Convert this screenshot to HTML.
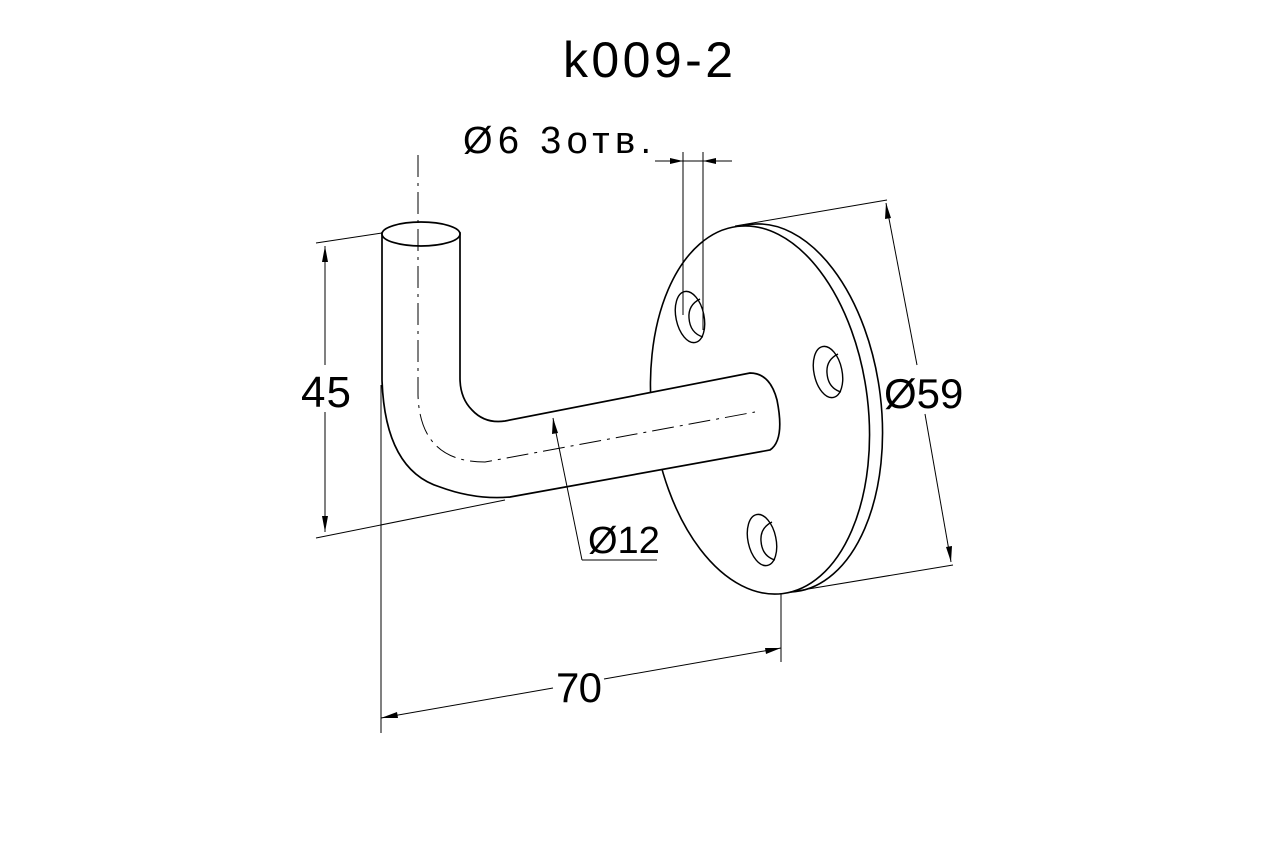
<!DOCTYPE html>
<html><head><meta charset="utf-8"><style>
html,body{margin:0;padding:0;background:#fff}
svg{display:block}
text{font-family:"Liberation Sans",sans-serif;fill:#000}
</style></head><body>
<svg width="1280" height="850" viewBox="0 0 1280 850" xmlns="http://www.w3.org/2000/svg">
<rect width="1280" height="850" fill="#fff"/>
<text x="563" y="77" font-size="50" textLength="170" lengthAdjust="spacing">k009-2</text>
<text x="463" y="153" font-size="38" textLength="188" lengthAdjust="spacing">Ø6 3отв.</text>

<!-- disk -->
<g stroke="#000" fill="#fff" stroke-width="1.6">
<ellipse cx="773" cy="408" rx="108" ry="185" transform="rotate(-7 773 408)"/>
<ellipse cx="760" cy="410" rx="108" ry="185" transform="rotate(-7 760 410)"/>
</g>
<!-- holes -->
<g stroke="#000" fill="none" stroke-width="1.4">
<ellipse cx="690" cy="317" rx="14" ry="26" transform="rotate(-12 690 317)"/>
<path d="M700 299 Q688 305 689 318 Q690 333 703 337"/>
<ellipse cx="828" cy="372" rx="14" ry="26" transform="rotate(-12 828 372)"/>
<path d="M838 354 Q826 360 827 373 Q828 388 841 392"/>
<ellipse cx="762" cy="540" rx="14" ry="26" transform="rotate(-12 762 540)"/>
<path d="M772 522 Q760 528 761 541 Q762 556 775 560"/>
</g>

<!-- tube -->
<path d="M382 233 L382 380 Q385 470 440 487 Q475 500 510 497 L770 450 Q785 440 777 400 Q770 373 750 373 L505 421 Q485 424 472 410 Q460 398 460 378 L460 233 Z" fill="#fff" stroke="#000" stroke-width="1.7"/>
<ellipse cx="421" cy="234" rx="39" ry="12" fill="#fff" stroke="#000" stroke-width="1.7"/>
<!-- centerline -->
<path d="M418 155 L418 395 Q420 462 485 462 L755 412" fill="none" stroke="#000" stroke-width="1" stroke-dasharray="22 6 3 6"/>

<!-- dimensions -->
<g stroke="#000" stroke-width="1" fill="none">
<line x1="316" y1="243" x2="382" y2="233"/>
<line x1="316" y1="538" x2="505" y2="500"/>
<line x1="325" y1="246" x2="325" y2="365"/>
<line x1="325" y1="412" x2="325" y2="532"/>
<line x1="381" y1="385" x2="381" y2="733"/>
<line x1="781" y1="594" x2="781" y2="662"/>
<line x1="381" y1="718" x2="553" y2="688"/>
<line x1="604" y1="679" x2="781" y2="648"/>
<line x1="735" y1="226" x2="887" y2="200"/>
<line x1="790" y1="592" x2="953" y2="565"/>
<line x1="886" y1="203" x2="917" y2="365"/>
<line x1="925" y1="414" x2="951" y2="562"/>
<line x1="553" y1="418" x2="582" y2="560"/>
<line x1="582" y1="560" x2="657" y2="560"/>
<line x1="683" y1="152" x2="683" y2="315"/>
<line x1="703" y1="152" x2="703" y2="330"/>
<line x1="655" y1="161" x2="732" y2="161"/>
</g>
<g fill="#000">
<polygon points="325,246 322,262 328,262"/>
<polygon points="325,532 322,516 328,516"/>
<polygon points="381,718 397,712 398,718"/>
<polygon points="781,648 765,648 766,654"/>
<polygon points="886,203 885,219 891,218"/>
<polygon points="951,562 946,547 952,546"/>
<polygon points="553,418 552,434 558,433"/>
<polygon points="683,161 670,158 670,164"/>
<polygon points="703,161 716,158 716,164"/>
</g>
<text x="301" y="407" font-size="44" textLength="50" lengthAdjust="spacing">45</text>
<text x="556" y="702" font-size="42" textLength="46" lengthAdjust="spacing">70</text>
<text x="884" y="408" font-size="42">Ø59</text>
<text x="588" y="553" font-size="38">Ø12</text>
</svg>
</body></html>
